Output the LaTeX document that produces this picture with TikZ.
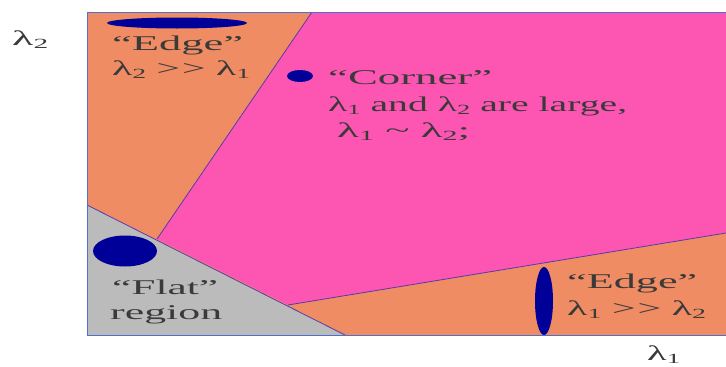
\documentclass[tikz,border=0pt]{standalone}
\usepackage{fontspec}
\setmainfont{Liberation Serif}
\definecolor{orng}{HTML}{F08C64}
\definecolor{pnk}{HTML}{FC55B2}
\definecolor{gry}{HTML}{BBBBBB}
\definecolor{navy}{HTML}{000099}
\definecolor{bndc}{HTML}{5A3AA8}
\definecolor{boxc}{HTML}{5070D0}
\definecolor{txtc}{HTML}{3A3A3A}
\newcommand\fitw[2]{\resizebox{#1pt}{\height}{#2}}
\newcommand\lsub[2]{#1\raisebox{-0.35ex}{\fontsize{14}{14}\selectfont #2}}
\newcommand\mygtgt{{>}\kern1pt{>}}
\begin{document}
\begin{tikzpicture}[x=1pt,y=-1pt,
  txt/.style={inner sep=0pt, anchor=base west, text=txtc, font=\fontsize{21}{21}\selectfont},
  bnd/.style={draw=bndc, line width=0.8pt},
  blob/.style={fill=navy}]
\useasboundingbox (0,0) rectangle (726,367);
\fill[white] (0,0) rectangle (726,367);
% regions
\fill[orng] (87,12) rectangle (726,335);
\fill[pnk] (312,12) -- (726,12) -- (726,233) -- (288,305) -- (157,239) -- cycle;
\fill[gry] (87,205) -- (345,335) -- (87,335) -- cycle;
\coordinate (pt) at (312,12);
\coordinate (pl) at (157,239);
\coordinate (ga) at (87,205);
\coordinate (gb) at (345,335);
\coordinate (pb) at (288,305);
\coordinate (pr) at (726,233);
\draw[bnd] (pt) -- (pl);
\draw[bnd] (ga) -- (gb);
\draw[bnd] (pb) -- (pr);
\draw[boxc, line width=1pt] (726,12) -- (87,12) -- (87,335) -- (726,335);
% blobs
\fill[blob] (177,23) ellipse [x radius=70, y radius=5.5];
\fill[blob] (300,76) ellipse [x radius=13, y radius=6];
\fill[blob] (125,251) ellipse [x radius=32, y radius=15.5];
\fill[blob] (544,301) ellipse [x radius=9, y radius=34];
% axis labels
\node[txt] (ax2) at (12,45) {\fitw{36}{\lsub{λ}{2}}};
\node[txt] (ax1) at (647,360) {\fitw{33}{\lsub{λ}{1}}};
% top edge
\node[txt] (e1a) at (112,50) {\fitw{131}{“Edge”}};
\node[txt] (e1b) at (112,75) {\fitw{138}{\lsub{λ}{2} \mygtgt{} \lsub{λ}{1}}};
% corner
\node[txt] (ca) at (328,84) {\fitw{164}{“Corner”}};
\node[txt] (cb) at (328,111) {\fitw{299}{\lsub{λ}{1} and \lsub{λ}{2} are large,}};
\node[txt] (cc) at (337,137) {\fitw{133}{\lsub{λ}{1} \textasciitilde{} \lsub{λ}{2};}};
% flat
\node[txt] (fa) at (112,294) {\fitw{106}{“Flat”}};
\node[txt] (fb) at (110,319) {\fitw{112}{region}};
% right edge
\node[txt] (e2a) at (567,288) {\fitw{130}{“Edge”}};
\node[txt] (e2b) at (567,315) {\fitw{139}{\lsub{λ}{1} \mygtgt{} \lsub{λ}{2}}};
\end{tikzpicture}
\end{document}
